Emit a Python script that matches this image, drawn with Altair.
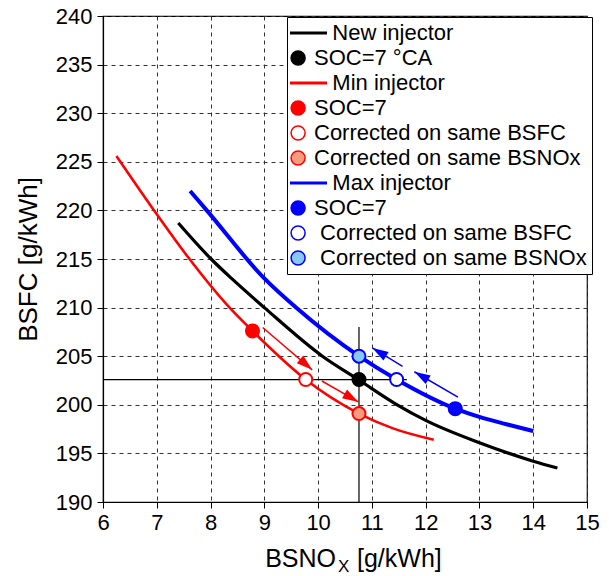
import math
import altair as alt
import pandas as pd

FONT = "Liberation Sans"
NB = "\u00a0"
ZW = "\u200b"

# ---------------- data ----------------
x_ticks = [6, 7, 8, 9, 10, 11, 12, 13, 14, 15]
y_ticks = [190, 195, 200, 205, 210, 215, 220, 225, 230, 235, 240]

new_x = [7.40, 8.01, 8.39, 9.00, 10.08, 10.76, 11.47, 12.00, 13.00, 14.00, 14.45]
new_y = [218.7, 215.0, 213.0, 210.0, 205.0, 202.55, 200.0, 198.4, 196.1, 194.2, 193.5]

min_x = [6.25, 6.95, 7.58, 8.32, 8.78, 9.27, 9.77, 10.76, 11.38, 12.15]
min_y = [225.6, 220.0, 215.2, 210.2, 207.6, 205.0, 202.6, 199.1, 197.6, 196.4]

max_x = [7.62, 7.93, 9.00, 9.59, 10.76, 11.46, 12.55, 13.00, 13.50, 14.00]
max_y = [222.0, 220.0, 213.0, 210.0, 205.0, 202.6, 199.6, 198.75, 198.0, 197.3]

pt_kind = ["new_soc", "min_soc", "min_bsfc", "min_bsnox", "max_soc", "max_bsfc", "max_bsnox"]
pt_x = [10.76, 8.78, 9.77, 10.76, 12.55, 11.46, 10.76]
pt_y = [202.6, 207.6, 202.6, 199.1, 199.6, 202.6, 205.0]

arrow_series = ["min", "min", "max", "max"]
arrow_x1 = [8.97, 10.07, 11.57, 12.60]
arrow_y1 = [207.95, 202.45, 203.95, 200.8]
arrow_x2 = [9.89, 10.75, 11.01, 11.79]
arrow_y2 = [203.6, 200.3, 205.85, 203.4]

ref_x1 = [10.76, 6.0]
ref_x2 = [10.76, 11.65]
ref_y1 = [190.0, 202.6]
ref_y2 = [208.0, 202.6]

legend_labels = [ZW + NB * 3 + "New injector", "SOC=7 °CA",
                 ZW + NB * 3 + "Min injector", "SOC=7",
                 "Corrected on same BSFC", "Corrected on same BSNOx",
                 ZW + NB * 3 + "Max injector", "SOC=7" + ZW,
                 ZW + NB + "Corrected on same BSFC", ZW + NB + "Corrected on same BSNOx"]

# ---------------- styles ----------------
W, H = 484, 486
LINE_SYM = "M-1.86,0H3.43"
CIRC_SYM = "M0.3,0A1,1 0 1,1 -1.7,0A1,1 0 1,1 0.3,0Z"
series_color = {"new": "black", "min": "#FF0000", "max": "#0000FF"}
series_width = {"new": 3.2, "min": 2.6, "max": 4.0}
kind_fill = {"new_soc": "black", "min_soc": "#FF0000", "min_bsfc": "white",
             "min_bsnox": "#F79C7F", "max_soc": "#0000FF", "max_bsfc": "white",
             "max_bsnox": "#87C8F5"}
kind_stroke = {"new_soc": "black", "min_soc": "#FF0000", "min_bsfc": "#FF0000",
               "min_bsnox": "#FF0000", "max_soc": "#0000FF", "max_bsfc": "#0000FF",
               "max_bsnox": "#0000FF"}
leg_shapes = [LINE_SYM, CIRC_SYM, LINE_SYM, CIRC_SYM, CIRC_SYM, CIRC_SYM,
              LINE_SYM, CIRC_SYM, CIRC_SYM, CIRC_SYM]
leg_strokes = ["black", "black", "#FF0000", "#FF0000", "#FF0000", "#FF0000",
               "#0000FF", "#0000FF", "#0000FF", "#0000FF"]
leg_fills = ["transparent", "black", "transparent", "#FF0000", "white", "#F79C7F",
             "transparent", "#0000FF", "white", "#87C8F5"]
leg_widths = [3, 1.5, 3, 1.5, 1.5, 1.5, 3, 1.5, 1.5, 1.5]

# ---------------- frames ----------------
curves = pd.concat([
    pd.DataFrame({"x": new_x, "y": new_y, "s": "new"}),
    pd.DataFrame({"x": min_x, "y": min_y, "s": "min"}),
    pd.DataFrame({"x": max_x, "y": max_y, "s": "max"}),
], ignore_index=True)
curves["lc"] = curves["s"].map(series_color)
curves["lw"] = curves["s"].map(series_width)

pts = pd.DataFrame({"x": pt_x, "y": pt_y, "k": pt_kind})
pts["fc"] = pts["k"].map(kind_fill)
pts["sc"] = pts["k"].map(kind_stroke)

arr = pd.DataFrame({"x1": arrow_x1, "y1": arrow_y1, "x2": arrow_x2, "y2": arrow_y2,
                    "s": arrow_series})
arr["c"] = arr["s"].map(series_color)
px_x = W / (x_ticks[-1] - x_ticks[0])
px_y = H / (y_ticks[-1] - y_ticks[0])
arr["ang"] = [
    (math.degrees(math.atan2((b - a) * px_x, (d - c) * px_y)) + 360) % 360
    for a, b, c, d in zip(arr["x1"], arr["x2"], arr["y1"], arr["y2"])
]

refs = pd.DataFrame({"x1": ref_x1, "x2": ref_x2, "y1": ref_y1, "y2": ref_y2})
leg_df = pd.DataFrame({"entry": legend_labels})

# ---------------- scales / axes ----------------
xs = alt.Scale(domain=[x_ticks[0], x_ticks[-1]], nice=False, zero=False)
ys = alt.Scale(domain=[y_ticks[0], y_ticks[-1]], nice=False, zero=False)
common_axis = dict(labelFontSize=22, labelFont=FONT, labelColor="black",
                   tickColor="black", tickSize=6, tickWidth=1,
                   domainColor="black", domainWidth=1.2,
                   grid=True, gridColor="#333333", gridDash=[4, 4], gridWidth=1,
                   labelFlush=False, labelOverlap=False)
xaxis = alt.Axis(values=x_ticks, title=None, labelPadding=4, **common_axis)
yaxis = alt.Axis(values=y_ticks, title="BSFC [g/kWh]", titleFontSize=26,
                 titleFont=FONT, titleFontWeight="normal", titleColor="black",
                 titlePadding=14, labelPadding=5, **common_axis)


def X(f):
    return alt.X(f, type="quantitative", scale=xs, axis=xaxis)


def Y(f):
    return alt.Y(f, type="quantitative", scale=ys, axis=yaxis)


ref_layer = alt.Chart(refs).mark_rule(color="black", strokeWidth=1.2).encode(
    x=X("x1"), x2="x2", y=Y("y1"), y2="y2")

line_layer = alt.Chart(curves).mark_line(interpolate="monotone").encode(
    x=X("x"), y=Y("y"), detail="s:N",
    stroke=alt.Stroke("lc:N", scale=None),
    strokeWidth=alt.StrokeWidth("lw:Q", scale=None))

arrow_rule = alt.Chart(arr).mark_rule(strokeWidth=1.5).encode(
    x=X("x1"), x2="x2", y=Y("y1"), y2="y2",
    stroke=alt.Stroke("c:N", scale=None))

arrow_head = alt.Chart(arr).mark_point(
    shape="M0,0L1,3.2L-1,3.2Z", filled=True, size=100, opacity=1, strokeWidth=0
).encode(
    x=X("x2"), y=Y("y2"),
    fill=alt.Fill("c:N", scale=None),
    angle=alt.Angle("ang:Q", scale=None))

point_layer = alt.Chart(pts).mark_point(shape="circle", filled=True, size=170,
                                        opacity=1, strokeWidth=2).encode(
    x=X("x"), y=Y("y"),
    fill=alt.Fill("fc:N", scale=None),
    stroke=alt.Stroke("sc:N", scale=None))

leg = alt.Legend(title=None, orient="none", legendX=184, legendY=1,
                 direction="vertical", strokeColor="black", fillColor="white",
                 padding=5, labelFontSize=22, labelFont=FONT, labelColor="black",
                 labelLimit=600, rowPadding=3, symbolSize=196, labelOffset=0)

legend_layer = alt.Chart(leg_df).mark_point(opacity=0, filled=True).encode(
    shape=alt.Shape("entry:N", scale=alt.Scale(domain=legend_labels, range=leg_shapes), legend=leg),
    stroke=alt.Stroke("entry:N", scale=alt.Scale(domain=legend_labels, range=leg_strokes), legend=leg),
    fill=alt.Fill("entry:N", scale=alt.Scale(domain=legend_labels, range=leg_fills), legend=leg),
    strokeWidth=alt.StrokeWidth("entry:N", scale=alt.Scale(type="ordinal", domain=legend_labels,
                                                           range=leg_widths), legend=leg),
)

title_main = alt.Chart(pd.DataFrame({"t": ["BSNO"]})).mark_text(
    align="right", baseline="alphabetic", fontSize=25, font=FONT, color="black"
).encode(x=alt.value(233), y=alt.value(551), text="t:N")
title_sub = alt.Chart(pd.DataFrame({"t": ["X"]})).mark_text(
    align="left", baseline="alphabetic", fontSize=17, font=FONT, color="black"
).encode(x=alt.value(235), y=alt.value(556), text="t:N")
title_unit = alt.Chart(pd.DataFrame({"t": ["[g/kWh]"]})).mark_text(
    align="left", baseline="alphabetic", fontSize=25, font=FONT, color="black"
).encode(x=alt.value(254), y=alt.value(551), text="t:N")

chart = alt.layer(
    ref_layer, line_layer, arrow_rule, arrow_head, point_layer, legend_layer,
    title_main, title_sub, title_unit
).properties(
    width=W, height=H,
    padding={"left": 103, "top": 16, "right": 22, "bottom": 74},
    autosize=alt.AutoSizeParams(type="none"),
    background="white",
).configure_view(stroke="black", strokeWidth=1.2)

chart.save("out.html", embed_options={"renderer": "svg", "actions": False})
